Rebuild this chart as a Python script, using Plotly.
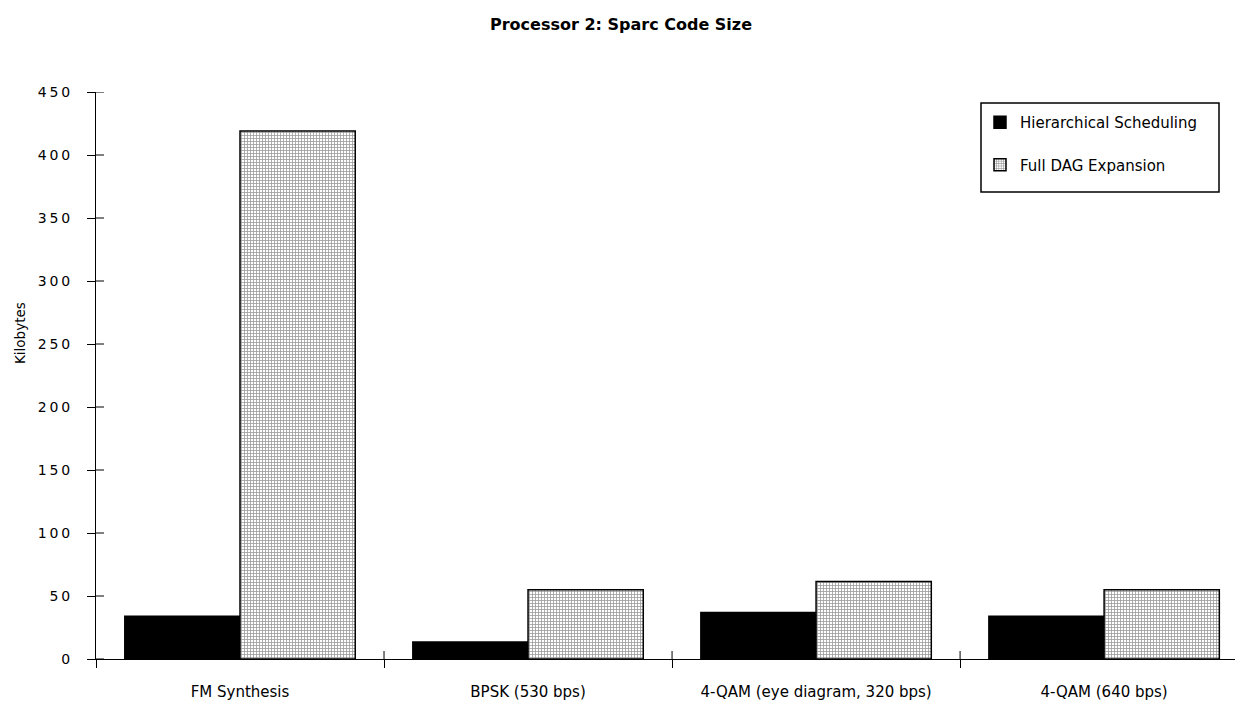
import plotly.graph_objects as go

categories = ["FM Synthesis", "BPSK (530 bps)", "4-QAM (eye diagram, 320 bps)", "4-QAM (640 bps)"]
hierarchical = [34, 13.5, 37, 34]
full_dag = [419, 55, 61.5, 55]
y_ticks = [0, 50, 100, 150, 200, 250, 300, 350, 400, 450]
SP = "\u2009"
y_tick_text = [SP.join(str(v)) for v in y_ticks]

FONT = "DejaVu Sans, Verdana, sans-serif"

# screen geometry helpers (page body has an 8px margin)
PL, PT, PW, PH = 96, 92, 1155, 567
def px(X):
    return (X - PL) / PW
def py(Y):
    return (PT + PH - Y) / PH

fig = go.Figure()
fig.add_trace(go.Bar(
    x=categories, y=hierarchical, name="Hierarchical Scheduling",
    marker=dict(color="black", line=dict(color="black", width=1.5)),
    legendgroup="a",
))
fig.add_trace(go.Bar(
    x=categories, y=full_dag, name="Full DAG Expansion",
    marker=dict(color="white", line=dict(color="black", width=1.5),
                pattern=dict(shape="+", size=3, solidity=0.45, fgcolor="#333333", bgcolor="white")),
    legendgroup="b",
))

# inner halves of the crossing tick marks (axis decoration derived from tick lists)
shapes = []
for v in y_ticks:
    shapes.append(dict(type="line", xref="paper", yref="y", x0=0, x1=px(104), y0=v, y1=v,
                       line=dict(color="black", width=1), layer="above"))
for i in range(len(categories) - 1):
    b = i + 0.5
    shapes.append(dict(type="line", xref="x", yref="paper", x0=b, x1=b, y0=0, y1=py(651),
                       line=dict(color="black", width=1), layer="above"))
# legend frame
shapes.append(dict(type="rect", xref="paper", yref="paper",
                   x0=px(981), x1=px(1219), y0=py(192), y1=py(103),
                   line=dict(color="black", width=1.5), fillcolor="rgba(0,0,0,0)", layer="above"))

fig.update_layout(
    width=1243, height=706,
    paper_bgcolor="white", plot_bgcolor="white",
    margin=dict(l=88, r=0, t=84, b=55, autoexpand=False),
    barmode="group", bargap=0.2, bargroupgap=0,
    font=dict(family=FONT, size=11, color="black"),
    title=dict(text="<b>Processor 2: Sparc Code Size</b>", x=613 / 1243, xref="container",
               y=1 - 16 / 706, yref="container", yanchor="middle", xanchor="center",
               font=dict(size=16, family=FONT)),
    showlegend=True,
    legend=dict(x=px(980), y=py(106), xanchor="left", yanchor="top",
                bgcolor="rgba(0,0,0,0)", borderwidth=0,
                font=dict(size=15, family=FONT), tracegroupgap=20,
                itemwidth=30),
    xaxis=dict(
        range=[-0.5, 3.51], showline=True, linecolor="black", linewidth=1,
        ticks="outside", tickson="boundaries", ticklen=8, tickcolor="black",
        tickfont=dict(size=15, family=FONT), ticklabelstandoff=19,
        showgrid=False, zeroline=False, automargin=False,
    ),
    yaxis=dict(
        range=[0, 450], showline=True, linecolor="black", linewidth=1,
        tickvals=y_ticks, ticktext=y_tick_text,
        ticks="outside", ticklen=8, tickcolor="black",
        tickfont=dict(size=14, family=FONT), ticklabelstandoff=14,
        showgrid=False, zeroline=False, automargin=False,
    ),
    annotations=[dict(text="Kilobytes", textangle=-90, xref="paper", yref="paper",
                      x=px(20), y=py(333), xanchor="center", yanchor="middle", showarrow=False,
                      font=dict(size=13.5, family=FONT))],
    shapes=shapes,
)

fig.write_html("out.html")
